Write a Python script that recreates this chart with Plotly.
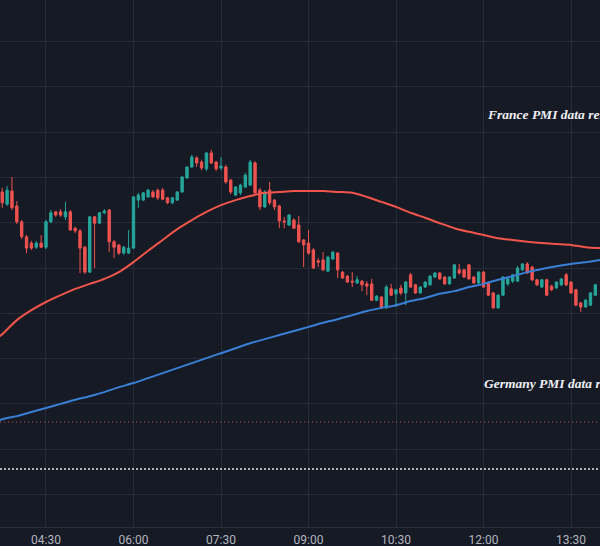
import pandas as pd
import plotly.graph_objects as go

DAY = "2024-01-24"

# ---- 5-minute candles starting 03:45 ----
open_ = [146.8, 144.1, 147.0, 143.7, 140.2, 136.9, 135.5, 134.6, 135.5, 134.6,
         140.2, 142.4, 142.4, 141.3, 142.4, 138.8, 138.2, 134.6, 129.1, 141.3,
         139.9, 142.2, 142.8, 135.8, 135.1, 133.3, 133.3, 134.4, 145.0, 145.0,
         145.7, 146.8, 147.2, 147.2, 145.5, 144.4, 145.0, 146.8, 149.9, 152.3,
         154.3, 153.4, 151.9, 155.4, 153.4, 152.1, 152.3, 149.4, 146.1, 146.6,
         147.9, 148.3, 153.2, 147.2, 143.5, 147.2, 145.0, 143.7, 140.4, 139.5,
         140.6, 139.5, 136.2, 135.5, 134.0, 131.6, 131.8, 129.3, 132.0, 133.3,
         129.1, 128.2, 127.1, 126.7, 127.1, 126.5, 126.5, 122.9, 123.6, 121.2,
         125.4, 124.3, 125.6, 124.5, 128.5, 126.3, 124.5, 125.8, 126.3, 128.0,
         128.9, 128.0, 126.5, 127.8, 129.6, 129.6, 130.7, 128.0, 126.7, 129.1,
         126.7, 124.5, 121.2, 124.0, 126.5, 127.1, 127.1, 129.6, 130.9, 130.2,
         127.4, 125.8, 127.4, 126.0, 125.6, 126.3, 128.5, 126.9, 125.2, 122.3,
         121.4, 121.8, 124.0]
high = [147.7, 148.1, 150.1, 144.8, 140.6, 137.3, 136.0, 136.0, 137.3, 140.6,
        142.8, 142.6, 143.0, 144.6, 142.8, 139.1, 138.6, 134.9, 141.5, 141.5,
        142.4, 143.0, 143.0, 136.2, 135.3, 134.9, 138.4, 145.9, 146.6, 146.8,
        147.5, 147.2, 147.5, 147.7, 145.7, 145.7, 147.0, 150.3, 152.5, 155.0,
        154.7, 153.9, 155.6, 156.1, 153.6, 154.5, 152.8, 149.7, 148.1, 148.6,
        151.0, 153.9, 153.6, 147.7, 147.2, 149.0, 145.2, 143.9, 141.3, 141.9,
        141.0, 141.5, 136.4, 138.4, 134.4, 132.2, 133.5, 132.7, 133.8, 133.5,
        129.3, 128.5, 129.1, 128.2, 127.4, 127.1, 127.6, 124.0, 123.8, 126.3,
        126.5, 125.4, 126.3, 127.1, 128.9, 126.5, 126.0, 127.1, 128.5, 129.1,
        129.1, 128.2, 128.2, 130.9, 130.9, 129.8, 130.9, 128.2, 129.3, 129.3,
        126.9, 124.7, 124.3, 128.2, 128.0, 128.7, 130.5, 131.1, 131.3, 130.5,
        127.6, 127.6, 127.6, 126.3, 127.1, 127.8, 128.9, 127.1, 125.4, 122.5,
        123.2, 124.7, 126.5]
low = [143.3, 143.7, 142.8, 139.7, 136.4, 133.3, 134.0, 134.2, 134.4, 134.2,
       139.9, 141.3, 141.3, 140.6, 138.2, 137.7, 128.9, 128.7, 128.9, 130.0,
       139.7, 141.9, 133.5, 132.2, 132.9, 132.9, 133.1, 134.2, 143.3, 144.8,
       145.5, 145.5, 145.0, 145.0, 144.1, 144.1, 144.8, 146.6, 149.7, 152.1,
       152.3, 151.6, 151.4, 153.0, 151.4, 151.6, 148.6, 146.3, 145.9, 146.1,
       147.7, 148.1, 146.1, 142.8, 143.3, 143.9, 142.8, 138.8, 138.8, 139.3,
       138.6, 135.5, 130.2, 132.9, 129.8, 130.2, 129.3, 129.1, 131.8, 127.8,
       127.6, 126.7, 125.8, 126.5, 124.9, 124.0, 122.7, 122.7, 121.0, 121.0,
       123.8, 121.4, 124.0, 121.8, 125.6, 124.3, 124.3, 125.6, 126.0, 127.8,
       127.4, 126.3, 126.3, 127.6, 128.5, 127.8, 127.4, 126.5, 126.5, 125.6,
       123.8, 121.0, 121.0, 123.8, 126.0, 126.7, 126.9, 129.3, 128.7, 127.1,
       126.0, 125.6, 123.8, 124.9, 125.4, 126.0, 126.0, 124.3, 121.6, 120.3,
       121.2, 121.6, 123.8]
close = [144.4, 147.2, 143.3, 140.2, 136.9, 134.4, 134.4, 135.5, 134.6, 140.2,
         142.2, 141.7, 141.7, 142.4, 138.4, 138.2, 134.4, 129.1, 141.3, 139.9,
         142.2, 142.6, 135.8, 134.6, 133.3, 134.6, 134.4, 145.7, 146.1, 146.6,
         147.2, 145.7, 145.5, 145.2, 144.4, 145.5, 146.8, 150.1, 152.3, 154.5,
         153.2, 152.1, 155.4, 153.2, 151.9, 152.5, 149.0, 146.8, 147.9, 148.3,
         150.5, 153.4, 146.6, 143.5, 146.8, 144.4, 143.5, 140.4, 140.2, 141.7,
         138.8, 135.8, 135.1, 133.3, 130.0, 131.3, 129.6, 132.4, 133.5, 129.6,
         127.8, 126.9, 126.9, 127.4, 126.3, 126.0, 122.9, 123.8, 121.2, 125.8,
         124.0, 125.2, 124.5, 126.9, 125.8, 124.5, 125.8, 126.9, 128.2, 128.9,
         127.6, 126.5, 128.0, 130.7, 128.9, 128.0, 127.6, 126.7, 129.1, 125.8,
         124.0, 121.2, 124.0, 128.0, 127.6, 128.5, 130.0, 130.9, 128.9, 127.4,
         126.3, 127.4, 124.0, 125.2, 126.9, 127.6, 126.3, 124.5, 121.8, 121.4,
         122.9, 124.5, 126.3]

# ---- moving averages (read every 15 min) ----
ma_times = ["03:40", "03:45", "04:00", "04:15", "04:30", "04:45", "05:00", "05:15",
            "05:30", "05:45", "06:00", "06:15", "06:30", "06:45", "07:00", "07:15",
            "07:30", "07:45", "08:00", "08:15", "08:30", "08:45", "09:00", "09:15",
            "09:30", "09:45", "10:00", "10:15", "10:30", "10:45", "11:00", "11:15",
            "11:30", "11:45", "12:00", "12:15", "12:30", "12:45", "13:00", "13:15",
            "13:30", "13:45", "14:00"]
ma_red = [114.6, 115.4, 118.5, 120.7, 122.5, 124.0, 125.4, 126.5, 127.6, 129.1,
          131.3, 133.8, 136.2, 138.6, 140.6, 142.4, 143.9, 145.0, 145.9, 146.6,
          146.8, 147.0, 147.0, 147.0, 146.8, 146.6, 145.7, 144.6, 143.5, 142.2,
          141.1, 139.9, 138.8, 138.0, 137.3, 136.6, 136.2, 135.8, 135.5, 135.3,
          135.1, 134.6, 134.4]
ma_blue = [96.2, 96.6, 97.3, 98.2, 99.1, 100.0, 100.9, 101.7, 102.6, 103.7,
           104.6, 105.7, 106.8, 107.9, 109.0, 110.1, 111.2, 112.3, 113.4, 114.3,
           115.2, 116.1, 117.0, 117.9, 118.7, 119.6, 120.5, 121.2, 121.8, 122.7,
           123.4, 124.3, 124.9, 125.8, 126.5, 127.4, 128.2, 129.1, 129.8, 130.4,
           130.9, 131.3, 131.8]

tick_labels = ["04:30", "06:00", "07:30", "09:00", "10:30", "12:00", "13:30"]

level_red = 96.0
level_white = 85.6

notes = ["France PMI data release", "Germany PMI data release"]
note_times = ["12:02:00", "11:58:00"]
note_prices = [164.0, 104.6]

# ---- styles ----
BG = "#161a25"
GRID = "#252a36"
UP = "#26a69a"
DOWN = "#ef5350"

times = pd.date_range(f"{DAY} 03:45", periods=len(open_), freq="5min")
ma_x = [f"{DAY} {t}" for t in ma_times]

fig = go.Figure()
fig.add_trace(go.Scatter(x=ma_x, y=ma_red, mode="lines",
                         line=dict(color="#f0554b", width=2, shape="spline", smoothing=0.8),
                         hoverinfo="skip"))
fig.add_trace(go.Scatter(x=ma_x, y=ma_blue, mode="lines",
                         line=dict(color="#3a7fd6", width=2, shape="spline", smoothing=0.8),
                         hoverinfo="skip"))
fig.add_trace(go.Candlestick(
    x=times, open=open_, high=high, low=low, close=close,
    increasing=dict(line=dict(color=UP, width=1), fillcolor=UP),
    decreasing=dict(line=dict(color=DOWN, width=1), fillcolor=DOWN),
    whiskerwidth=0, hoverinfo="skip"))

fig.add_shape(type="line", xref="paper", x0=0, x1=1, yref="y", y0=level_red, y1=level_red,
              line=dict(color="#b35a5e", width=1, dash="1px,3px"))
fig.add_shape(type="line", xref="paper", x0=0, x1=1, yref="y", y0=level_white, y1=level_white,
              line=dict(color="#e6e6e6", width=1.5, dash="2px,2px"))

for txt, t, p in zip(notes, note_times, note_prices):
    fig.add_annotation(x=f"{DAY} {t}", y=p, xref="x", yref="y", text=txt,
                       showarrow=False, xanchor="left", yanchor="middle",
                       font=dict(family="Liberation Serif", size=13.5, color="#eef0f5",
                                 style="italic", weight="bold"))

fig.update_layout(
    width=600, height=546,
    margin=dict(l=0, r=0, t=0, b=19),
    paper_bgcolor=BG, plot_bgcolor=BG,
    showlegend=False,
    xaxis=dict(
        type="date",
        range=[f"{DAY} 03:42:42", f"{DAY} 13:59:48"],
        rangeslider=dict(visible=False),
        tickvals=[f"{DAY} {t}" for t in tick_labels],
        ticktext=tick_labels,
        showgrid=True, gridcolor=GRID, gridwidth=1,
        showline=True, linecolor="#2a2e39", linewidth=1,
        zeroline=False, ticks="", ticklabelstandoff=2,
        tickfont=dict(family="Roboto", size=12, color="#b2b5be"),
        fixedrange=True,
    ),
    yaxis=dict(
        range=[72.82, 189.18], tick0=0, dtick=10,
        showgrid=True, gridcolor=GRID, gridwidth=1,
        showticklabels=False, zeroline=False, fixedrange=True,
    ),
)

fig.write_html("out.html", config={"displayModeBar": False})
